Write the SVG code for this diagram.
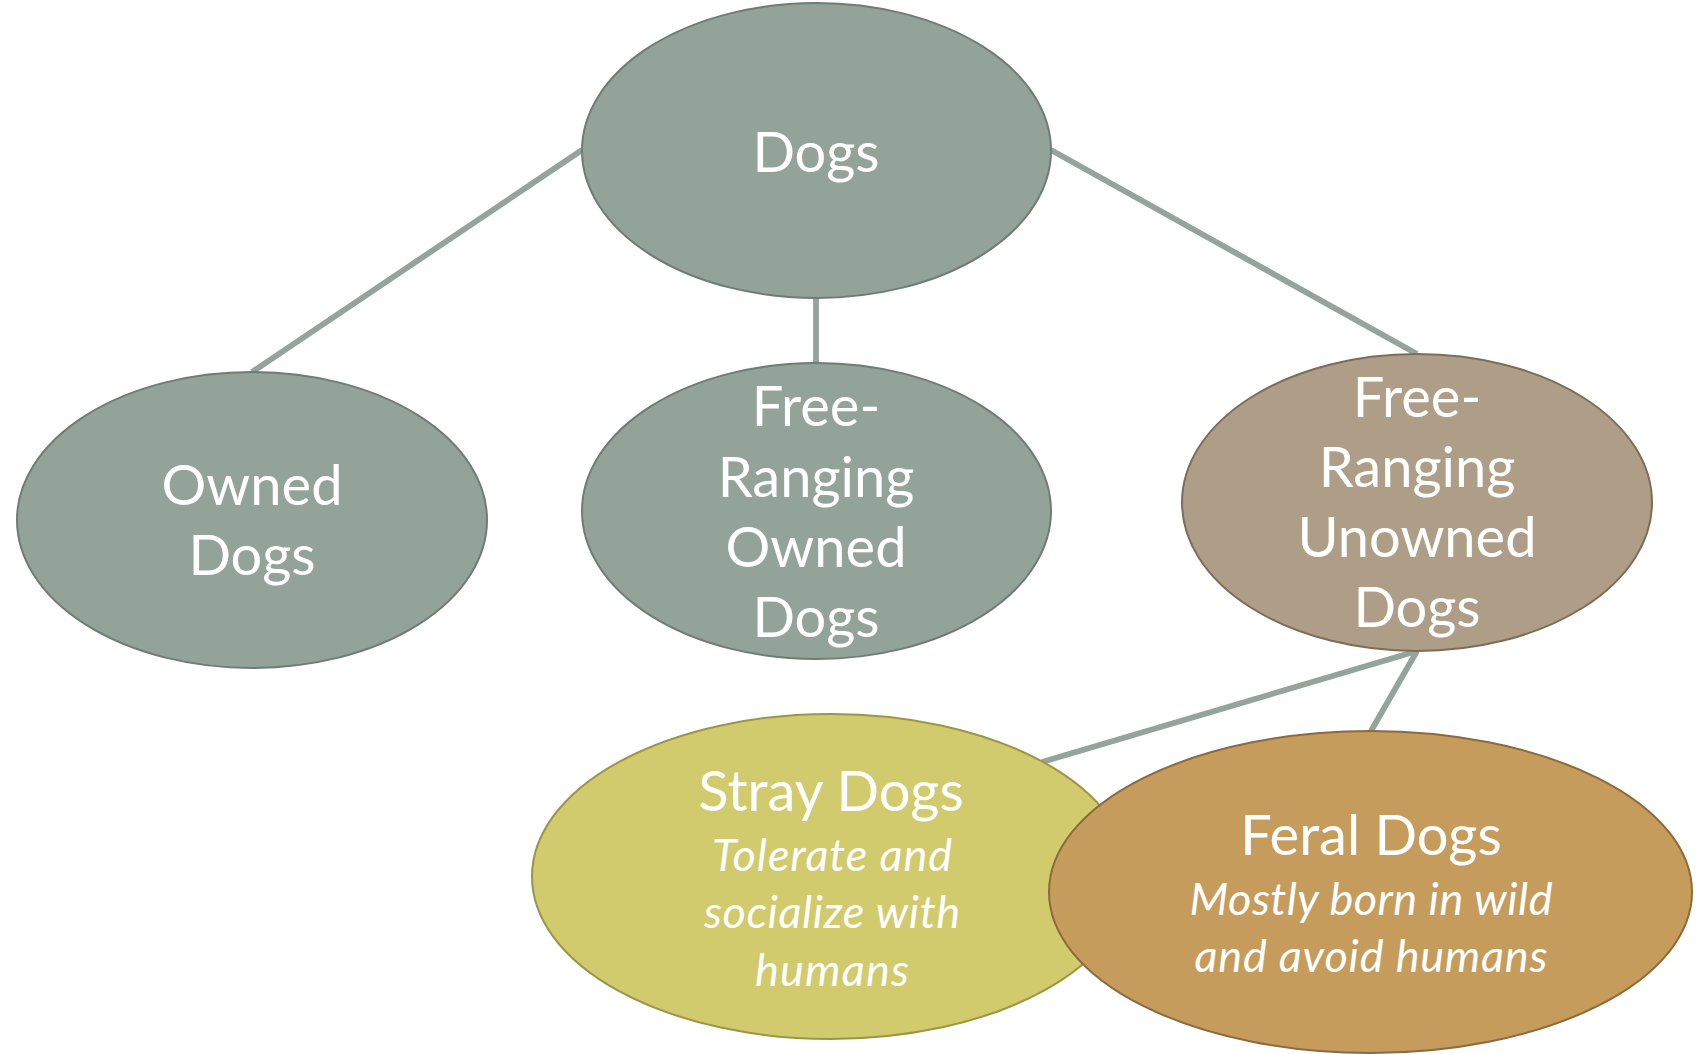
<svg xmlns="http://www.w3.org/2000/svg" width="1704" height="1054" viewBox="0 0 1704 1054">
<style>
.conn{stroke:#94a39b;stroke-width:5.8;fill:none}
.grey{fill:#93a39a;stroke:#6e7c74;stroke-width:2}
.tan{fill:#ae9e87;stroke:#7b6d5a;stroke-width:2}
.stray{fill:#d1cb6e;stroke:#9b9548;stroke-width:2}
.feral{fill:#c69c5d;stroke:#8a6a3e;stroke-width:2}
text{font-family:Lato,"Open Sans","Liberation Sans",sans-serif;fill:#ffffff;text-anchor:middle}
.t{font-size:56px}
.i{font-size:45px;font-style:italic}
</style>
<rect width="1704" height="1054" fill="#ffffff"/>
<g id="connectors">
<line class="conn" x1="582" y1="150" x2="252" y2="372"/>
<line class="conn" x1="816" y1="298" x2="816" y2="363"/>
<line class="conn" x1="1051" y1="150" x2="1417" y2="354"/>
<line class="conn" x1="1417" y1="651" x2="1042" y2="762"/>
<line class="conn" x1="1417" y1="651" x2="1371" y2="731"/>
</g>
<g id="dogs">
<ellipse class="grey" cx="816.5" cy="150.5" rx="234.5" ry="147.5"/>
<text class="t" x="816" y="172">Dogs</text>
</g>
<g id="owned">
<ellipse class="grey" cx="252" cy="520" rx="235" ry="148"/>
<text class="t" x="252" y="505">Owned</text>
<text class="t" x="252" y="575">Dogs</text>
</g>
<g id="free-ranging-owned">
<ellipse class="grey" cx="816.5" cy="511" rx="234.5" ry="148"/>
<text class="t" x="816" y="426">Free-</text>
<text class="t" x="816" y="497">Ranging</text>
<text class="t" x="816" y="567">Owned</text>
<text class="t" x="816" y="637">Dogs</text>
</g>
<g id="free-ranging-unowned">
<ellipse class="tan" cx="1417" cy="502.5" rx="235" ry="148.5"/>
<text class="t" x="1417" y="417">Free-</text>
<text class="t" x="1417" y="487">Ranging</text>
<text class="t" x="1417" y="557">Unowned</text>
<text class="t" x="1417" y="627">Dogs</text>
</g>
<g id="stray">
<ellipse class="stray" cx="831" cy="876.5" rx="299" ry="162.5"/>
<text class="t" x="831" y="811">Stray Dogs</text>
<text class="i" x="832" y="871" textLength="240" lengthAdjust="spacing">Tolerate and</text>
<text class="i" x="832" y="928" textLength="256" lengthAdjust="spacing">socialize with</text>
<text class="i" x="832" y="986" textLength="154" lengthAdjust="spacing">humans</text>
</g>
<g id="feral">
<ellipse class="feral" cx="1370.5" cy="892" rx="321.5" ry="161"/>
<text class="t" x="1371" y="855">Feral Dogs</text>
<text class="i" x="1371" y="915" textLength="363" lengthAdjust="spacing">Mostly born in wild</text>
<text class="i" x="1371" y="972" textLength="353" lengthAdjust="spacing">and avoid humans</text>
</g>
</svg>
